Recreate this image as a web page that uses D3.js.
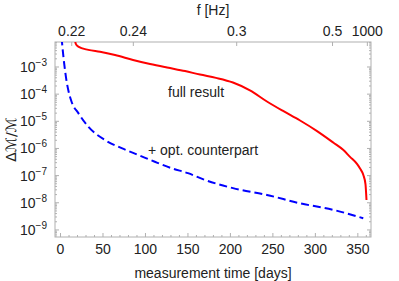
<!DOCTYPE html>
<html>
<head>
<meta charset="utf-8">
<script src="https://cdn.jsdelivr.net/npm/d3@7"></script>
<style>
  body { margin: 0; background: #fff; }
  text { font-family: "Liberation Sans", Arial, sans-serif; fill: #222; }
  .frame { stroke: #b0b0b0; fill: none; stroke-width: 1; }
  .tick { stroke: #b0b0b0; stroke-width: 1; }
</style>
</head>
<body>
<svg id="chart" width="399" height="281"></svg>
<script>
// red curve: full result (days, log10 of dM/M)
var fullDays = [16.5, 18, 20.9, 32.7, 46.5, 64.2, 85.4, 105.4, 125.4, 146.6, 164.2, 183, 203, 223, 243, 262, 282, 302, 321, 332.7, 340.8, 349, 352.6, 356.4, 359, 360.2];
var fullLog = [-1.9, -2.15, -2.25, -2.37, -2.44, -2.56, -2.74, -2.89, -3.02, -3.15, -3.28, -3.40, -3.57, -3.86, -4.27, -4.62, -4.97, -5.36, -5.78, -6.05, -6.31, -6.57, -6.74, -6.97, -7.31, -7.90];

// blue dashed: + optical counterpart
var optDays = [1.2, 3, 5, 7, 9.5, 13, 21, 32.7, 52.4, 72, 91.6, 111, 131, 150, 170, 203, 243, 282, 321, 356.4];
var optLog = [-1.9, -2.5, -3.05, -3.5, -3.9, -4.28, -4.70, -5.20, -5.69, -5.99, -6.24, -6.49, -6.73, -6.91, -7.16, -7.46, -7.71, -8.02, -8.26, -8.57];

var dayTicks = [0, 50, 100, 150, 200, 250, 300, 350];
var logTicks = [-3, -4, -5, -6, -7, -8, -9];
var freqLabels = ["0.22", "0.24", "0.3", "0.5", "1000"];
var freqDays = [13.2, 85.7, 207.4, 320.2, 361.2];

var margin = { top: 42, right: 28, bottom: 44, left: 55 };
var width = 399 - margin.left - margin.right;
var height = 281 - margin.top - margin.bottom;

var svg = d3.select("#chart");
var g = svg.append("g").
  attr("transform", "translate(" + margin.left + "," + margin.top + ")");

var x = d3.scaleLinear().domain([-6.5, 365.5]).range([0, width]);
var y = d3.scaleLog().domain([Math.pow(10, -9.26), Math.pow(10, -2.08)]).range([height, 0]);

g.append("defs").append("clipPath").
  attr("id", "clip").append("rect").
  attr("width", width).attr("height", height);

// frame
g.append("rect").attr("class", "frame").
  attr("width", width).attr("height", height);

// bottom and top (time) ticks
var minorDays = d3.range(0, 361, 10).filter(function(d) { return d % 50 !== 0; });
dayTicks.forEach(function(d) {
  g.append("line").attr("class", "tick").
    attr("x1", x(d)).attr("x2", x(d)).attr("y1", height).attr("y2", height - 4);
  g.append("text").
    attr("x", x(d)).attr("y", height + 17).
    attr("text-anchor", "middle").attr("font-size", 14).
    text(d);
});
minorDays.forEach(function(d) {
  g.append("line").attr("class", "tick").
    attr("x1", x(d)).attr("x2", x(d)).attr("y1", height).attr("y2", height - 2);
});

freqDays.forEach(function(d, i) {
  g.append("line").attr("class", "tick").
    attr("x1", x(d)).attr("x2", x(d)).attr("y1", 0).attr("y2", 4);
  g.append("text").
    attr("x", x(d)).attr("y", -6).
    attr("text-anchor", "middle").attr("font-size", 14).
    text(freqLabels[i]);
});

// log ticks left and right
for (var e = -10; e <= -2; e++) {
  for (var m = 1; m <= 9; m++) {
    var v = m * Math.pow(10, e);
    var lv = Math.log10(v);
    if (lv < -9.26 || lv > -2.08) continue;
    var len = m === 1 ? 4 : 2;
    g.append("line").attr("class", "tick").
      attr("x1", 0).attr("x2", len).attr("y1", y(v)).attr("y2", y(v));
    g.append("line").attr("class", "tick").
      attr("x1", width).attr("x2", width - len).attr("y1", y(v)).attr("y2", y(v));
  }
}

logTicks.forEach(function(p) {
  var t = g.append("text").
    attr("x", -8).attr("y", y(Math.pow(10, p)) + 5).
    attr("text-anchor", "end").attr("font-size", 14);
  t.append("tspan").text("10");
  t.append("tspan").attr("dy", -6).attr("font-size", 10).text("\u2212" + (-p));
});

// curves
var line = d3.line().
  x(function(d) { return x(d[0]); }).
  y(function(d) { return y(Math.pow(10, d[1])); }).
  curve(d3.curveMonotoneX);

var full = fullDays.map(function(d, i) { return [d, fullLog[i]]; });
var opt = optDays.map(function(d, i) { return [d, optLog[i]]; });

g.append("path").
  datum(opt).
  attr("clip-path", "url(#clip)").
  attr("fill", "none").
  attr("stroke", "#0000ff").
  attr("stroke-width", 2).
  attr("stroke-dasharray", "8,4").
  attr("d", line);

g.append("path").
  datum(full).
  attr("clip-path", "url(#clip)").
  attr("fill", "none").
  attr("stroke", "#ff0000").
  attr("stroke-width", 2).
  attr("d", line);

// curve labels
g.append("text").
  attr("x", 113).attr("y", 55).attr("font-size", 14).
  text("full result");
g.append("text").
  attr("x", 93).attr("y", 113).attr("font-size", 14).
  text("+ opt. counterpart");

// axis titles
svg.append("text").
  attr("x", margin.left + width / 2).attr("y", 278).
  attr("text-anchor", "middle").attr("font-size", 14).
  text("measurement time [days]");

svg.append("text").
  attr("x", margin.left + width / 2).attr("y", 15).
  attr("text-anchor", "middle").attr("font-size", 14).
  text("f [Hz]");

svg.append("text").
  attr("transform", "translate(16," + (margin.top + height / 2) + ") rotate(-90)").
  attr("text-anchor", "middle").attr("font-size", 14).
  style("font-family", "'DejaVu Sans', sans-serif").
  text("\u0394\u2133/\u2133");
</script>
</body>
</html>
